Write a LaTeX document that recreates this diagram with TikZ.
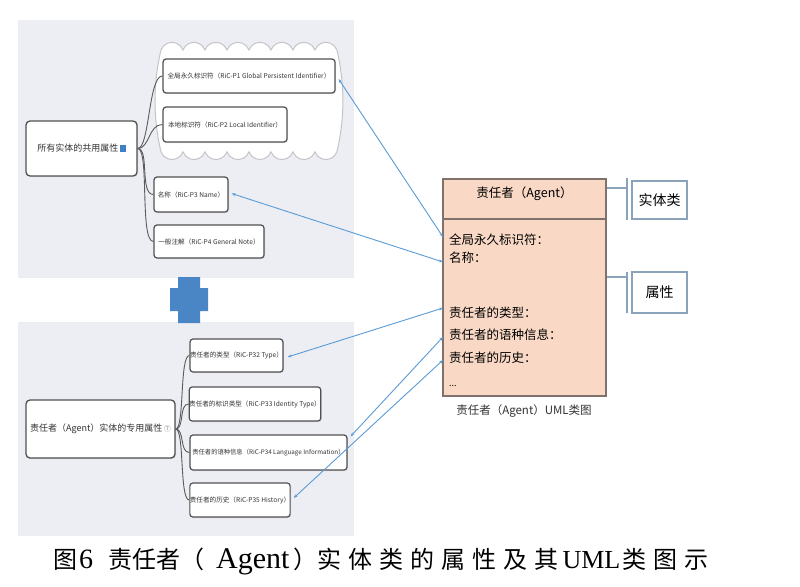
\documentclass[tikz,border=0pt]{standalone}
\usepackage{fontspec}
\setmainfont{Noto Sans CJK SC}
\newfontfamily\lat{Liberation Serif}
\usetikzlibrary{arrows.meta,shadows}
\definecolor{panelbg}{HTML}{EDEEF4}
\definecolor{boxline}{HTML}{505050}
\definecolor{branchline}{HTML}{5A5A5A}
\definecolor{cloudline}{HTML}{C4C4C8}
\definecolor{linkblue}{HTML}{5B9BD5}
\definecolor{plusblue}{HTML}{4A86C5}
\definecolor{umlfill}{HTML}{F9D9C6}
\definecolor{umlline}{HTML}{7F726C}
\definecolor{brk}{HTML}{8AA2BA}
\definecolor{iconblue}{HTML}{3F7FC8}
\definecolor{txt}{HTML}{333333}
\newcommand{\cg}{\hspace{7pt}}
\begin{document}
\begin{tikzpicture}[x=1pt,y=-1pt,
  panel/.style={fill=panelbg,draw=none},
  rootbox/.style={draw=boxline,line width=1.3pt,rounded corners=4pt,fill=white,inner sep=0pt,text=txt,font=\fontsize{9}{11}\selectfont,drop shadow={opacity=0.2,shadow xshift=1pt,shadow yshift=-1pt}},
  childbox/.style={draw=boxline,line width=1.2pt,rounded corners=3pt,fill=white,inner sep=0pt,text=txt,font=\fontsize{6.6}{7.5}\selectfont,drop shadow={opacity=0.2,shadow xshift=1pt,shadow yshift=-1pt}},
  branch/.style={draw=branchline,line width=0.9pt},
  link/.style={draw=linkblue,line width=0.9pt,{Stealth[length=4pt,width=3pt]}-{Stealth[length=4pt,width=3pt]}},
  umltext/.style={anchor=west,inner sep=0pt,font=\fontsize{12.5}{14}\selectfont},
  brkline/.style={draw=brk,line width=1.4pt},
  tagbox/.style={draw=brk,line width=1.2pt,fill=white,inner sep=0pt,minimum width=55pt,font=\fontsize{14}{16}\selectfont}
]
\useasboundingbox (0,0) rectangle (800,586);
\fill[white] (0,0) rectangle (800,586);

% panels
\fill[panel] (18,20) rectangle (354,278);
\fill[panel] (18,322) rectangle (354,536);

% cloud
\draw[cloudline,fill=white,line width=1pt] (161,50)
  \foreach \i in {1,...,8}{ arc[start angle=200,end angle=340,radius=11.7] }
  arc[start angle=-13.4,end angle=13.4,radius=219.75]
  \foreach \i in {1,...,8}{ arc[start angle=20,end angle=160,radius=11.7] }
  arc[start angle=166.6,end angle=193.4,radius=219.75]
  -- cycle;

% top mind map
\node[rootbox,minimum width=111pt,minimum height=55pt] (r1) at (81.5,148.5)
  {所有实体的共用属性\,\textcolor{iconblue}{\rule[-0.5pt]{6pt}{7pt}}};
\node[childbox,minimum width=172pt,minimum height=34pt] (p1) at (249,76)
  {全局永久标识符（RiC-P1 Global Persistent Identifier）};
\node[childbox,minimum width=124pt,minimum height=35pt] (p2) at (225,124.5)
  {本地标识符（RiC-P2 Local Identifier）};
\node[childbox,minimum width=74pt,minimum height=35pt] (p3) at (191,194.5)
  {名称（RiC-P3 Name）};
\node[childbox,minimum width=110pt,minimum height=33pt] (p4) at (209,241.5)
  {一般注解（RiC-P4 General Note）};
\foreach \c in {p1,p2,p3,p4}
  \draw[branch] (r1.east) .. controls +(12,0) and +(-14,0) .. (\c.west);

% plus sign
\fill[plusblue] (178,277) -- (200,277) -- (200,288) -- (208,288) -- (208,311)
  -- (200,311) -- (200,323) -- (178,323) -- (178,311) -- (170,311)
  -- (170,288) -- (178,288) -- cycle;

% bottom mind map
\node[rootbox,minimum width=149pt,minimum height=58pt] (r2) at (100.5,429)
  {责任者（Agent）实体的专用属性\,\textcolor{gray}{\fontsize{7}{8}\selectfont ⑦}};
\node[childbox,minimum width=93pt,minimum height=33pt] (c1) at (236.5,355.5)
  {责任者的类型（RiC-P32 Type）};
\node[childbox,minimum width=130pt,minimum height=34pt] (c2) at (255,404)
  {责任者的标识类型（RiC-P33 Identity Type）};
\node[childbox,minimum width=157pt,minimum height=35pt,font=\fontsize{6.3}{7.5}\selectfont] (c3) at (268.5,452.5)
  {责任者的语种信息（RiC-P34 Language Information）};
\node[childbox,minimum width=100pt,minimum height=34pt] (c4) at (240,500)
  {责任者的历史（RiC-P35 History）};
\foreach \c in {c1,c2,c3,c4}
  \draw[branch] (r2.east) .. controls +(9,0) and +(-10,0) .. (\c.west);

% UML class box
\node[draw=umlline,line width=1.5pt,fill=umlfill,minimum width=163pt,minimum height=217pt,inner sep=0pt] (uml) at (524.5,287.5) {};
\node[font=\fontsize{12.5}{14}\selectfont,inner sep=0pt] (title) at (524.5,194) {责任者（Agent）};
\draw[umlline,line width=2pt] (uml.west |- 0,219) -- (uml.east |- 0,219);
\node[umltext] (u1) at (449,240) {全局永久标识符：};
\node[umltext] (u2) at (449,258) {名称：};
\node[umltext] (u3) at (449,313) {责任者的类型：};
\node[umltext] (u4) at (449,335) {责任者的语种信息：};
\node[umltext] (u5) at (449,358) {责任者的历史：};
\node[umltext,font=\fontsize{9}{10}\selectfont] (u6) at (449,386) {...};
\node[inner sep=0pt,text=txt,font=\fontsize{11.5}{13}\selectfont] (umlcap) at (524,411) {责任者（Agent）UML类图};

% arrow end points on the class box
\coordinate (e1) at (443,237);
\coordinate (e2) at (443,262);
\coordinate (e3) at (443,308);
\coordinate (e4) at (443,337);
\coordinate (e5) at (443,360);
\draw[link] (e1) -- ([xshift=3pt,yshift=-3pt]p1.east);
\draw[link] (e2) -- ([xshift=3pt,yshift=1pt]p3.east);
\draw[link] (e3) -- ([xshift=4pt,yshift=-1.5pt]c1.east);
\draw[link] (e4) -- ([xshift=3pt,yshift=-2pt]c3.north east);
\draw[link] (e5) -- ([xshift=3pt,yshift=2pt]c4.east);

% brackets and tags
\node[tagbox,minimum height=38pt] (ent) at (659.5,200) {实体类};
\node[tagbox,minimum height=41pt] (att) at (659.5,292.5) {属性};
\draw[brkline] (uml.east |- 0,188) -- (627,188);
\draw[brkline] (627,178) -- (627,220);
\draw[brkline] (uml.east |- 0,277) -- (627,277);
\draw[brkline] (627,272) -- (627,313);

% caption
\node[inner sep=0pt,anchor=west,font=\fontsize{24}{28}\selectfont] (cap) at (53,561)
  {图\hspace{2pt}{\lat\fontsize{28}{30}\selectfont 6}\hspace{15pt}责任者（\hspace{12pt}{\lat\fontsize{30}{32}\selectfont Agent}\hspace{4pt}）实\cg 体\cg 类\cg 的\cg 属\cg 性\cg 及\cg 其\hspace{4pt}{\lat\fontsize{26}{28}\selectfont UML}\hspace{2pt}类\cg 图\cg 示};
\end{tikzpicture}
\end{document}
